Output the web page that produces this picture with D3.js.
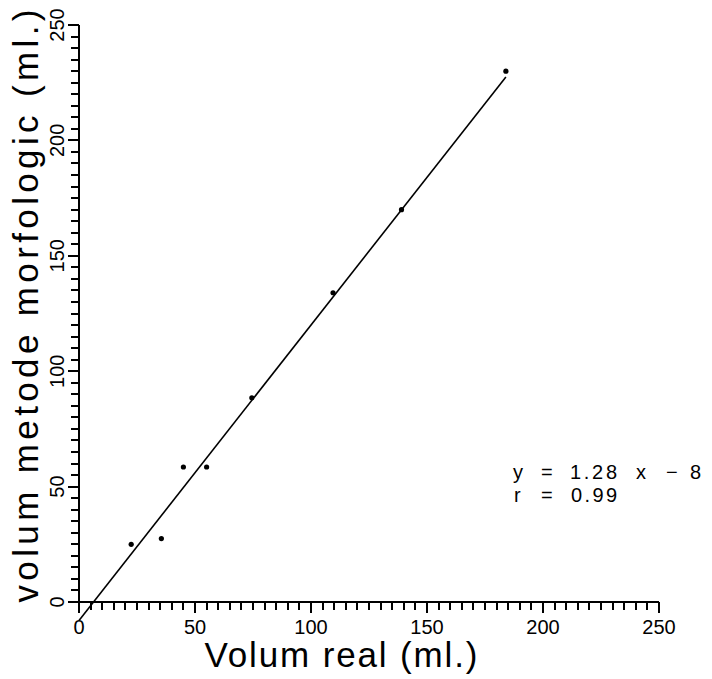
<!DOCTYPE html>
<html>
<head>
<meta charset="utf-8">
<script src="https://cdn.jsdelivr.net/npm/d3@7"></script>
<style>
  html, body { margin: 0; padding: 0; background: #fff; }
  svg { display: block; }
  text { font-family: "Liberation Sans", Arial, sans-serif; fill: #000; }
</style>
</head>
<body>
<svg id="chart" width="712" height="679"></svg>
<script>
// Real volume vs. volume estimated by the morphologic method (ml.)
const volumReal       = [22.5, 35.5, 45, 55, 74.5, 109.5, 139, 184];
const volumMorfologic = [25, 27.5, 58.5, 58.5, 88.5, 134, 170, 230];

// Regression line and correlation
const slope = 1.28;
const intercept = -8;
const rValue = 0.99;
const lineFrom = 0;
const lineTo = 184;

const xTickLabels = [0, 50, 100, 150, 200, 250];
const yTickLabels = [0, 50, 100, 150, 200, 250];

const svg = d3.select("#chart");

const x = d3.scaleLinear().domain([0, 250]).range([79, 659]);
const y = d3.scaleLinear().domain([0, 250]).range([602, 25]);

// Small ticks every 5 units, long ones at the labelled values
const smallTicks = x.ticks(50);
const bigTicks = x.ticks(5);
const tickLen = v => (bigTicks.includes(v) ? 11 : 8);

const ticks = svg.append("g").attr("fill", "#000").attr("shape-rendering", "crispEdges");

ticks.selectAll("rect.xt").data(smallTicks).join("rect").attr("class", "xt")
  .attr("x", v => Math.round(x(v)) - 1).attr("y", y(0))
  .attr("width", 2).attr("height", tickLen);

ticks.selectAll("rect.yt").data(smallTicks).join("rect").attr("class", "yt")
  .attr("x", v => x(0) - tickLen(v)).attr("y", v => Math.round(y(v)) - 1)
  .attr("width", tickLen).attr("height", 2);

// Axis lines
ticks.append("rect")
  .attr("x", x(0) - 1).attr("y", y(0) - 1)
  .attr("width", x(250) - x(0) + 1).attr("height", 2);
ticks.append("rect")
  .attr("x", x(0) - 1).attr("y", y(250))
  .attr("width", 2).attr("height", y(0) - y(250) + 1);

// Tick labels
svg.append("g").selectAll("text").data(xTickLabels).join("text")
  .attr("x", d => x(d)).attr("y", 634)
  .attr("text-anchor", "middle").attr("font-size", 20)
  .text(d => d);

svg.append("g").selectAll("text").data(yTickLabels).join("text")
  .attr("transform", d => `translate(64,${y(d)}) rotate(-90)`)
  .attr("text-anchor", "middle").attr("font-size", 20)
  .text(d => d);

// Axis titles
svg.append("text")
  .attr("x", 341).attr("y", 667)
  .attr("text-anchor", "middle").attr("font-size", 35)
  .attr("textLength", 273).attr("lengthAdjust", "spacing")
  .text("Volum real (ml.)");

svg.append("text")
  .attr("transform", "translate(38,306) rotate(-90)")
  .attr("text-anchor", "middle").attr("font-size", 35)
  .attr("textLength", 593).attr("lengthAdjust", "spacing")
  .text("volum metode morfologic (ml.)");

// Regression line
svg.append("line")
  .attr("x1", x(lineFrom)).attr("y1", y(slope * lineFrom + intercept))
  .attr("x2", x(lineTo)).attr("y2", y(slope * lineTo + intercept))
  .attr("stroke", "#000").attr("stroke-width", 1.6);

// Observations
svg.append("g").selectAll("circle").data(volumReal).join("circle")
  .attr("cx", d => x(d))
  .attr("cy", (d, i) => y(volumMorfologic[i]))
  .attr("r", 2.6).attr("fill", "#000");

// Equation, set token by token with wide plotter-style spacing
const eqLine1 = [["y", 513], ["=", 541], [String(slope), 570], ["x", 636], ["\u2212", 666], [String(-intercept), 690]];
const eqLine2 = [["r", 514], ["=", 541], [rValue.toFixed(2), 571]];
const eq = svg.append("g").attr("font-size", 20);
eq.selectAll("text.l1").data(eqLine1).join("text").attr("class", "l1")
  .attr("x", d => d[1]).attr("y", 479)
  .attr("textLength", d => d[0].length > 2 ? 47 : null)
  .attr("lengthAdjust", "spacing")
  .text(d => d[0]);
eq.selectAll("text.l2").data(eqLine2).join("text").attr("class", "l2")
  .attr("x", d => d[1]).attr("y", 502)
  .attr("textLength", d => d[0].length > 2 ? 46 : null)
  .attr("lengthAdjust", "spacing")
  .text(d => d[0]);
</script>
</body>
</html>
